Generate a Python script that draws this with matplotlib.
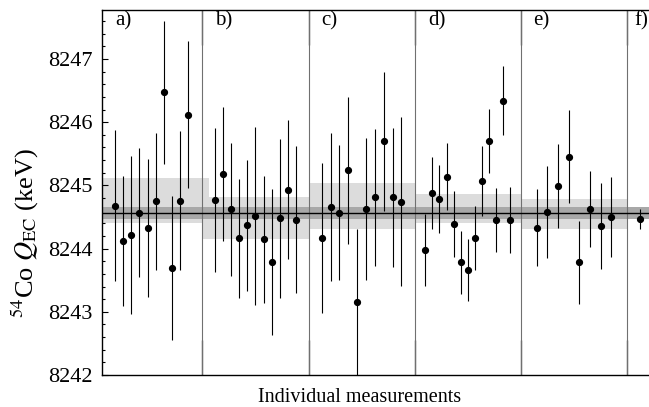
import numpy as np
import matplotlib
matplotlib.use("Agg")
import matplotlib.pyplot as plt

plt.rcParams['font.family'] = ['Liberation Serif', 'DejaVu Serif']
plt.rcParams['mathtext.fontset'] = 'stix'

# ---------------- data ----------------
panel_labels = ['a)', 'b)', 'c)', 'd)', 'e)', 'f)']

vals_a = [8244.68, 8244.12, 8244.22, 8244.57, 8244.33, 8244.75, 8246.47, 8243.69, 8244.76, 8246.12]
errs_a = [1.20, 1.035, 1.25, 1.02, 1.095, 1.085, 1.125, 1.14, 1.095, 1.165]

vals_b = [8244.77, 8245.18, 8244.62, 8244.16, 8244.37, 8244.51, 8244.15, 8243.78, 8244.48, 8244.93, 8244.46]
errs_b = [1.145, 1.06, 1.05, 0.945, 1.035, 1.41, 1.005, 1.155, 1.255, 1.10, 1.17]

vals_c = [8244.17, 8244.66, 8244.57, 8245.24, 8243.15, 8244.63, 8244.81, 8245.70, 8244.81, 8244.74]
errs_c = [1.185, 1.175, 1.07, 1.16, 1.16, 1.12, 1.085, 1.10, 1.105, 1.335]

vals_d = [8243.98, 8244.88, 8244.78, 8245.14, 8244.39, 8243.78, 8243.66, 8244.17, 8245.07, 8245.70, 8244.45, 8246.34, 8244.45]
errs_d = [0.575, 0.57, 0.535, 0.525, 0.525, 0.50, 0.495, 0.505, 0.55, 0.51, 0.51, 0.545, 0.52]

vals_e = [8244.33, 8244.58, 8244.99, 8245.45, 8243.78, 8244.62, 8244.36, 8244.50]
errs_e = [0.605, 0.725, 0.67, 0.735, 0.66, 0.60, 0.675, 0.64]

vals_f = [8244.47]
errs_f = [0.155]

# per-panel weighted means (light bands): centre, half-width
band_centres = [8244.76, 8244.485, 8244.67, 8244.635, 8244.545]
band_halfw = [0.36, 0.335, 0.36, 0.235, 0.235]

overall_mean = 8244.56
overall_err = 0.095

# ---------------- layout ----------------
W, H = 649, 407
fig = plt.figure(figsize=(W / 100, H / 100), dpi=100)
ax_left, ax_right, ax_top, ax_bot = 101.7, 652.0, 10.0, 375.0
ax = fig.add_axes([ax_left / W, (H - ax_bot) / H, (ax_right - ax_left) / W, (ax_bot - ax_top) / H])

xmin, xmax = 0.053, 5.234
ymin, ymax = 8242.0, 8247.775
ax.set_xlim(xmin, xmax)
ax.set_ylim(ymin, ymax)

groups_v = [vals_a, vals_b, vals_c, vals_d, vals_e, vals_f]
groups_e = [errs_a, errs_b, errs_c, errs_d, errs_e, errs_f]
# panel extents (start, width) in x units; points spread evenly inside
panel_start = [0.064, 1.0, 2.0, 3.0, 4.0, 5.0]
panel_width = [0.919, 1.0, 1.0, 1.0, 1.0, 0.233]
band_start = [xmin, 1.006, 2.0, 3.0, 4.0]
band_end = [1.06, 2.0, 3.0, 4.0, 5.0]

light = '#dcdcdc'
dark = '#a8a8a8'

# light bands
for bs, be, c, hw in zip(band_start, band_end, band_centres, band_halfw):
    ax.fill_between([bs, be], c - hw, c + hw, color=light, lw=0, zorder=1)
# overall dark band
ax.axhspan(overall_mean - overall_err, overall_mean + overall_err, color=dark, lw=0, zorder=2)
ax.axhline(overall_mean, color='black', lw=1.0, zorder=3)

# separators
for b in [1, 2, 3, 4, 5]:
    ax.axvline(b, color='#707070', lw=0.8, zorder=2.5)

# measurements
for s, w, v, e in zip(panel_start, panel_width, groups_v, groups_e):
    n = len(v)
    x = s + (np.arange(n) + 1.5) * w / (n + 2)
    ax.errorbar(x, v, yerr=e, fmt='o', color='black', ms=4.2, elinewidth=0.8,
                capsize=0, zorder=4)

# panel labels
label_x = [0.179, 1.12, 2.124, 3.13, 4.117, 5.065]
for lx, lab in zip(label_x, panel_labels):
    ax.text(lx, 0.97, lab, transform=ax.get_xaxis_transform(), ha='left', va='center',
            fontsize=15, zorder=5)

# ticks
ax.set_yticks(np.arange(8242, 8248, 1))
ax.set_yticks(np.arange(8242, 8247.8, 0.2), minor=True)
ax.set_yticklabels([f'{t:d}' for t in range(8242, 8248)], fontsize=16)
ax.tick_params(axis='y', which='major', direction='in', length=4.5, width=0.8,
               left=True, right=False, pad=6.5)
ax.tick_params(axis='y', which='minor', direction='in', length=2.5, width=0.8, left=True, right=False)
ax.set_xticks([1, 2, 3, 4, 5])
ax.set_xticklabels([])
ax.tick_params(axis='x', which='major', direction='in', length=25, width=0.9,
               top=True, bottom=True, color='black')
ax.tick_params(axis='x', which='minor', bottom=False, top=False)

for sp in ax.spines.values():
    sp.set_linewidth(1.0)

ax.set_xlabel('Individual measurements', fontsize=14.5)
ax.xaxis.set_label_coords(0.468, -0.035)
ax.set_ylabel(r'$^{54}$Co $Q_{\mathrm{EC}}$ (keV)', fontsize=19)
ax.yaxis.set_label_coords(-0.11, 0.39)

fig.savefig('out.png', dpi=100)
